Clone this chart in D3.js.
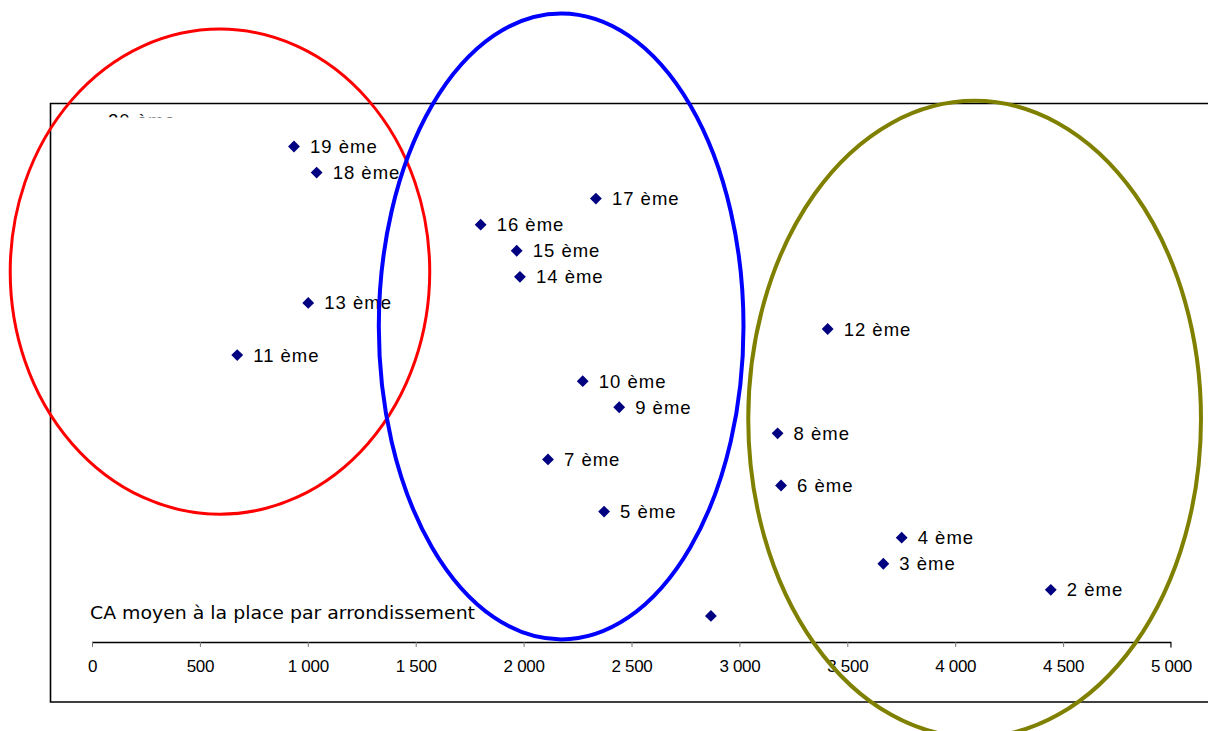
<!DOCTYPE html>
<html>
<head>
<meta charset="utf-8">
<script src="https://cdn.jsdelivr.net/npm/d3@7"></script>
<style>
  html, body { margin: 0; padding: 0; background: #fff; }
  svg { display: block; }
</style>
</head>
<body>
<svg id="chart" width="1208" height="731"></svg>
<script>
// Arrondissement number (vertical position) and average turnover per seat (horizontal)
const arrondissements = [20, 19, 18, 17, 16, 15, 14, 13, 12, 11, 10, 9, 8, 7, 6, 5, 4, 3, 2, 1];
const caMoyen = [0, 936, 1041, 2335, 1801, 1968, 1983, 1002, 3409, 673, 2274, 2443, 3177, 2113, 3193, 2373, 3752, 3667, 4443, 2868];
const pointLabels = ["20 ème", "19 ème", "18 ème", "17 ème", "16 ème", "15 ème", "14 ème", "13 ème", "12 ème", "11 ème",
                     "10 ème", "9 ème", "8 ème", "7 ème", "6 ème", "5 ème", "4 ème", "3 ème", "2 ème", ""];
const xTicks = [0, 500, 1000, 1500, 2000, 2500, 3000, 3500, 4000, 4500, 5000];
const axisTitle = "CA moyen à la place par arrondissement";

// Groupings circled on the chart, in data units: centre (x, y) and radii (rx, ry)
const groupNames = ["faible", "moyen", "fort"];
const groupCx = [593, 2174, 4090];
const groupCy = [14.2, 12.1, 8.55];
const groupRx = [972, 845, 1049];
const groupRy = [9.3, 12.0, 12.2];
const groupColors = ["#ff0000", "#0000ff", "#808000"];
const groupStroke = [3, 4, 4];

const svg = d3.select("#chart");
svg.append("rect").attr("width", 1208).attr("height", 731).attr("fill", "#fff");

const x = d3.scaleLinear().domain([0, 5000]).range([92, 1171]);
const y = d3.scaleLinear().domain([0, 21]).range([642, 94.3]);

const fr = d3.formatLocale({ decimal: ",", thousands: " ", grouping: [3], currency: ["", " €"] });

// Chart area border (open on the right)
svg.append("path")
  .attr("d", "M1210,103.5 H50.5 V702 H1210")
  .attr("fill", "none").attr("stroke", "#000").attr("stroke-width", 1.6);

// Horizontal axis
const axis = svg.append("g")
  .attr("transform", `translate(0,${y(0)})`)
  .call(d3.axisBottom(x).tickValues(xTicks).tickSize(5).tickPadding(13).tickFormat(fr.format(",d")));
axis.select(".domain").attr("stroke", "#000").attr("stroke-width", 1.3).attr("d", `M${x(0)},0.5 H${x(5000)} V5.5`);
axis.selectAll(".tick line").attr("stroke", "#777");
axis.selectAll(".tick text")
  .attr("font-family", "'Liberation Sans', Arial, sans-serif")
  .attr("font-size", 17).attr("letter-spacing", -0.3).attr("fill", "#000");

// Axis title inside the plot
svg.append("text")
  .attr("x", 90).attr("y", 619)
  .attr("font-family", "'DejaVu Sans', Tahoma, sans-serif")
  .attr("font-size", 17.5)
  .attr("textLength", 385).attr("lengthAdjust", "spacingAndGlyphs")
  .attr("fill", "#000")
  .text(axisTitle);

// Clip for the partially hidden top label
svg.append("clipPath").attr("id", "topClip")
  .append("rect").attr("x", 50).attr("y", 104).attr("width", 1160).attr("height", 13.5);

const pts = arrondissements.map((a, i) => ({ a, v: caMoyen[i], label: pointLabels[i] }));

const diamond = d3.symbol().type(d3.symbolSquare).size(70);
const g = svg.append("g");

pts.forEach(d => {
  const cx = x(d.v), cy = y(d.a);
  const grp = g.append("g");
  if (d.a === 20) grp.attr("clip-path", "url(#topClip)");
  else {
    grp.append("path")
      .attr("d", diamond())
      .attr("transform", `translate(${cx},${cy}) rotate(45)`)
      .attr("fill", "#000080");
  }
  if (d.label) {
    grp.append("text")
      .attr("x", cx + 16).attr("y", cy + 6.5)
      .attr("font-family", "'Liberation Sans', Arial, sans-serif")
      .attr("font-size", 18.5)
      .attr("letter-spacing", 1)
      .attr("fill", "#000")
      .text(d.label);
  }
});

// Group ellipses
svg.append("g").selectAll("ellipse")
  .data(groupNames)
  .join("ellipse")
  .attr("cx", (d, i) => x(groupCx[i]))
  .attr("cy", (d, i) => y(groupCy[i]))
  .attr("rx", (d, i) => x(groupRx[i]) - x(0))
  .attr("ry", (d, i) => y(0) - y(groupRy[i]))
  .attr("fill", "none")
  .attr("stroke", (d, i) => groupColors[i])
  .attr("stroke-width", (d, i) => groupStroke[i]);
</script>
</body>
</html>
